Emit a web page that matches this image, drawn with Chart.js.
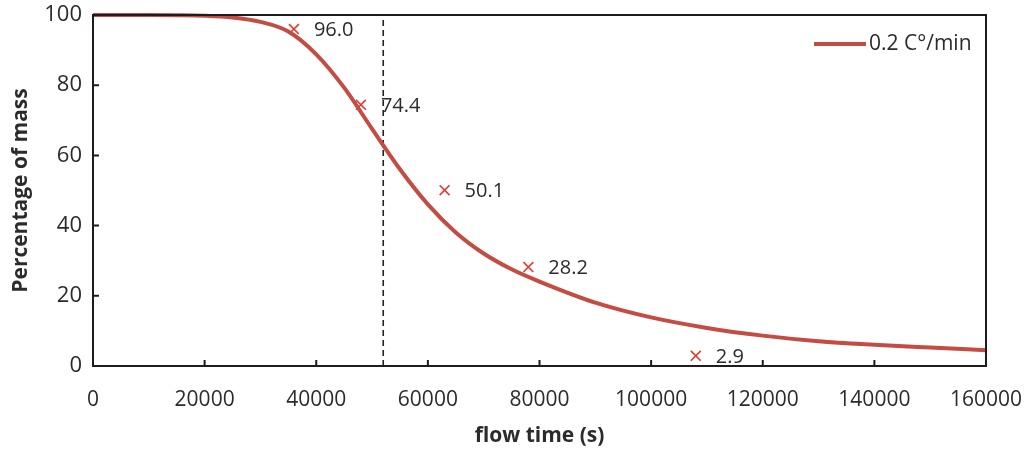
<!DOCTYPE html>
<html>
<head>
<meta charset="utf-8">
<title>Mass loss over flow time</title>
<script src="https://cdn.jsdelivr.net/npm/chart.js@4.4.1/dist/chart.umd.min.js"></script>
<style>
  html, body { margin: 0; padding: 0; background: #ffffff; }
  #wrap { width: 1035px; height: 450px; }
</style>
</head>
<body>
<div id="wrap"><canvas id="chart" width="1035" height="450"></canvas></div>
<script>
// Simulated mass curve (flow time in s, percentage of initial mass)
const curveTime = [0, 10000, 15000, 20000, 25000, 30000, 35000, 40000, 45000, 50000, 55000,
  60000, 65000, 70000, 75000, 80000, 90000, 100000, 110000, 120000, 130000, 140000, 150000, 160000];
const curveMass = [100, 100, 99.95, 99.8, 99.3, 98.05, 95.3, 88.8, 79.3, 67.55, 56.05,
  46.05, 38.05, 32.05, 27.55, 24.05, 18.05, 13.85, 10.85, 8.65, 7.05, 6.05, 5.25, 4.5];

// Measured samples
const sampleTime = [36000, 48000, 63000, 78000, 108000];
const sampleMass = [96.0, 74.4, 50.1, 28.2, 2.9];

// Reference time marked by the dashed line
const markerTime = 52000;

const xTicks = [0, 20000, 40000, 60000, 80000, 100000, 120000, 140000, 160000];
const yTicks = [0, 20, 40, 60, 80, 100];
const seriesLabel = '0.2 C°/min';

const FONT = '"Open Sans", "DejaVu Sans", sans-serif';
const TEXT = '#2b2b2b';
const CURVE = '#c44c42';
const CROSS = '#e5392f';

// Plot frame, inward ticks, sample value labels and the inside legend
const decorPlugin = {
  id: 'decor',
  afterDatasetsDraw(chart) {
    const { ctx } = chart;
    const a = chart.chartArea;
    const xs = chart.scales.x;
    const ys = chart.scales.y;

    ctx.save();
    ctx.strokeStyle = '#1c1c1c';
    ctx.lineWidth = 2;
    ctx.setLineDash([]);
    ctx.beginPath();
    ctx.rect(a.left, a.top, a.right - a.left, a.bottom - a.top);
    xTicks.forEach(v => {
      const px = xs.getPixelForValue(v);
      ctx.moveTo(px, a.bottom);
      ctx.lineTo(px, a.bottom - 6);
    });
    yTicks.forEach(v => {
      const py = ys.getPixelForValue(v);
      ctx.moveTo(a.left, py);
      ctx.lineTo(a.left + 6, py);
    });
    ctx.stroke();
    ctx.restore();

    const meta = chart.getDatasetMeta(2);
    ctx.save();
    ctx.font = '20px ' + FONT;
    ctx.fillStyle = TEXT;
    ctx.textAlign = 'left';
    ctx.textBaseline = 'middle';
    meta.data.forEach((el, i) => {
      ctx.fillText(sampleMass[i].toFixed(1), el.x + 20, el.y + 1);
    });
    ctx.restore();

    const textX = a.right - 117;
    const yMid = a.top + 29;
    ctx.save();
    ctx.strokeStyle = CURVE;
    ctx.lineWidth = 4;
    ctx.beginPath();
    ctx.moveTo(textX - 55, yMid);
    ctx.lineTo(textX - 3, yMid);
    ctx.stroke();
    ctx.font = '21px ' + FONT;
    ctx.fillStyle = TEXT;
    ctx.textAlign = 'left';
    ctx.textBaseline = 'middle';
    ctx.fillText(seriesLabel, textX, yMid);
    ctx.restore();
  }
};

new Chart(document.getElementById('chart'), {
  type: 'line',
  data: {
    datasets: [
      {
        label: seriesLabel,
        data: curveTime.map((t, i) => ({ x: t, y: curveMass[i] })),
        borderColor: CURVE,
        borderWidth: 4,
        pointRadius: 0,
        cubicInterpolationMode: 'monotone',
        clip: 6
      },
      {
        label: 'marker',
        data: [{ x: markerTime, y: 0 }, { x: markerTime, y: 100 }],
        borderColor: '#222222',
        borderWidth: 1.6,
        borderDash: [6, 4],
        pointRadius: 0
      },
      {
        label: 'samples',
        type: 'scatter',
        data: sampleTime.map((t, i) => ({ x: t, y: sampleMass[i] })),
        showLine: false,
        pointStyle: 'crossRot',
        pointRadius: 7,
        borderColor: CROSS,
        borderWidth: 1.6,
        clip: false
      }
    ]
  },
  options: {
    responsive: false,
    animation: false,
    layout: { padding: { top: 15, right: 49, left: 0, bottom: 0 } },
    plugins: {
      legend: { display: false },
      tooltip: { enabled: false }
    },
    scales: {
      x: {
        type: 'linear',
        min: 0,
        max: 160000,
        afterBuildTicks(scale) { scale.ticks = xTicks.map(v => ({ value: v })); },
        afterFit(scale) {
          scale.height = 84;
          scale.paddingLeft = 0;
          scale.paddingRight = 0;
        },
        grid: { display: false, drawTicks: false },
        border: { display: false },
        ticks: {
          callback: v => String(v),
          color: TEXT,
          font: { family: FONT, size: 21 },
          padding: 21,
          maxRotation: 0
        },
        title: {
          display: true,
          text: 'flow time (s)',
          color: TEXT,
          font: { family: FONT, size: 21, weight: 'bold' },
          padding: { top: 0, bottom: 1 }
        }
      },
      y: {
        type: 'linear',
        min: 0,
        max: 100,
        afterBuildTicks(scale) { scale.ticks = yTicks.map(v => ({ value: v })); },
        afterFit(scale) {
          scale.width = 93;
          scale.paddingTop = 0;
          scale.paddingBottom = 0;
        },
        grid: { display: false, drawTicks: false },
        border: { display: false },
        ticks: {
          callback: v => String(v),
          color: TEXT,
          font: { family: FONT, size: 22 },
          padding: 11
        },
        title: {
          display: true,
          text: 'Percentage of mass',
          color: TEXT,
          font: { family: FONT, size: 21, weight: 'bold' },
          padding: { top: 8, bottom: 0 }
        }
      }
    }
  },
  plugins: [decorPlugin]
});
</script>
</body>
</html>
